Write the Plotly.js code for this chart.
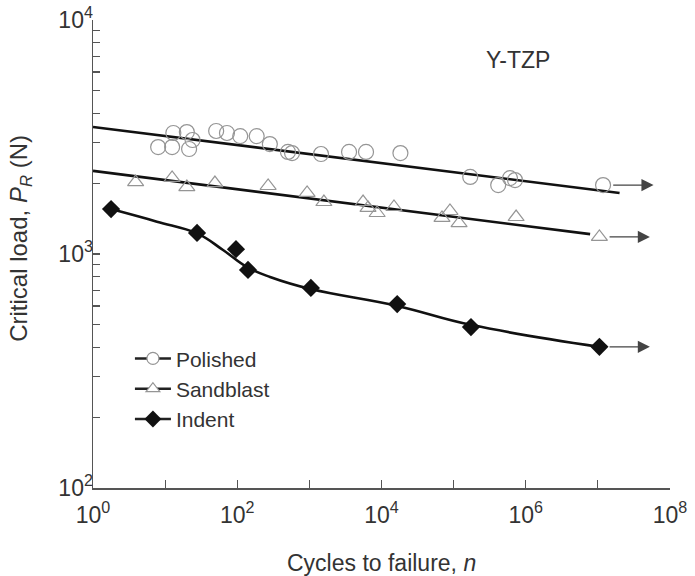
<!DOCTYPE html>
<html>
<head>
<meta charset="utf-8">
<script src="https://cdn.plot.ly/plotly-3.0.1.min.js"></script>
<style>
  html, body { margin: 0; padding: 0; background: #fff; }
  #plot { width: 695px; height: 576px; }
</style>
</head>
<body>
<div id="plot"></div>
<script>
// Polished specimens (open circles)
const polN = [8, 12.5, 13, 20, 24, 21.5, 51, 72, 110, 186, 283, 505, 575, 1450, 3550, 6100, 18300, 170000, 415000, 605000, 710000, 1.18e7];
const polP = [2865, 2865, 3290, 3320, 3070, 2810, 3355, 3290, 3190, 3190, 2950, 2730, 2700, 2675, 2730, 2730, 2700, 2135, 1970, 2110, 2070, 1970];
const polFitN = [1, 2.0e7];
const polFitP = [3490, 1824];

// Sandblasted (open triangles)
const sandN = [3.9, 12.5, 20, 49, 268, 930, 1590, 5550, 6500, 8700, 14900, 69000, 89000, 119000, 735000, 1.05e7];
const sandP = [2030, 2115, 1932, 2010, 1953, 1824, 1668, 1668, 1573, 1497, 1588, 1426, 1527, 1355, 1439, 1183];
const sandFitN = [1, 7.8e6];
const sandFitP = [2265, 1216];

// Indented (filled diamonds)
const indN = [1.78, 27.7, 96, 141, 1050, 16500, 174000, 1.05e7];
const indP = [1556, 1230, 1049, 855, 716, 611, 487, 401];
// curve
const indFitN = [1.78, 7.7, 27.7, 63.5, 137, 285, 1050, 16500, 174000, 1.05e7];
const indFitP = [1556, 1375, 1225, 1040, 879, 798, 708, 600, 498, 401];

// runouts (specimens that did not fail) -> arrows
const runoutN = [polN[polN.length - 1], sandN[sandN.length - 1], indN[indN.length - 1]];
const runoutP = [polP[polP.length - 1], sandP[sandP.length - 1], indP[indP.length - 1]];

const xTickVals = [1, 10, 100, 1e3, 1e4, 1e5, 1e6, 1e7, 1e8];
const xTickText = ["10<sup>0</sup>", "", "10<sup>2</sup>", "", "10<sup>4</sup>", "", "10<sup>6</sup>", "", "10<sup>8</sup>"];

const yTickVals = [];
const yTickText = [];
[100, 1000].forEach(d => {
  for (let k = 1; k <= 9; k++) {
    yTickVals.push(k * d);
    yTickText.push(k === 1 ? (d === 100 ? "10<sup>2</sup>" : "10<sup>3</sup>") : "");
  }
});
yTickVals.push(10000);
yTickText.push("10<sup>4</sup>");

const FONT = "Liberation Sans, Arial, sans-serif";
const INK = "#333";
const GREY = "#959595";

const traces = [
  { x: polFitN, y: polFitP, mode: "lines", line: { color: "#111", width: 2.6 }, showlegend: false, hoverinfo: "skip" },
  { x: sandFitN, y: sandFitP, mode: "lines", line: { color: "#111", width: 2.6 }, showlegend: false, hoverinfo: "skip" },
  { x: indFitN, y: indFitP, mode: "lines", line: { color: "#111", width: 2.6, shape: "spline", smoothing: 1.2 }, showlegend: false, hoverinfo: "skip" },
  { x: polN, y: polP, mode: "markers", showlegend: false,
    marker: { symbol: "circle-open", size: 15, color: GREY, line: { width: 1.2 } } },
  { x: sandN, y: sandP, mode: "markers", showlegend: false,
    marker: { symbol: "triangle-up-open", size: 14, color: GREY, line: { width: 1.2 } } },
  { x: indN, y: indP, mode: "markers", showlegend: false,
    marker: { symbol: "diamond", size: 14, color: "#111" } },
  // legend entries
  { x: [null], y: [null], mode: "lines+markers", name: "Polished", legendgroup: "a",
    line: { color: "#222", width: 2.5 },
    marker: { symbol: "circle", size: 12, color: "#fff", line: { color: GREY, width: 1.2 } } },
  { x: [null], y: [null], mode: "lines+markers", name: "Sandblast", legendgroup: "b",
    line: { color: "#222", width: 2.5 },
    marker: { symbol: "triangle-up", size: 12, color: "#fff", line: { color: GREY, width: 1.2 } } },
  { x: [null], y: [null], mode: "lines+markers", name: "Indent", legendgroup: "c",
    line: { color: "#222", width: 2.5 },
    marker: { symbol: "diamond", size: 13, color: "#111" } }
];

const annotations = runoutN.map((n, i) => ({
  xref: "x", yref: "y", axref: "x", ayref: "y",
  x: Math.log10(n) + 0.70, y: Math.log10(runoutP[i]),
  ax: Math.log10(n) + 0.12, ay: Math.log10(runoutP[i]),
  showarrow: true, arrowhead: 2, arrowsize: 2.2, arrowwidth: 1.1, arrowcolor: "#444", text: ""
}));
annotations.push(
  { xref: "paper", yref: "paper", x: 0.736, y: 0.915, xanchor: "center", yanchor: "middle",
    text: "Y-TZP", showarrow: false, font: { family: FONT, size: 23, color: INK } },
  { xref: "paper", yref: "paper", x: 0.5, y: -0.16, xanchor: "center", yanchor: "middle",
    text: "Cycles to failure, <i>n</i>", showarrow: false, font: { family: FONT, size: 23, color: INK } },
  { xref: "paper", yref: "paper", x: -0.127, y: 0.534, xanchor: "center", yanchor: "middle", textangle: -90,
    text: "Critical load, <i>P</i><sub><i>R</i></sub> (N)", showarrow: false, font: { family: FONT, size: 24, color: INK } }
);

const layout = {
  width: 695, height: 576,
  margin: { l: 93, r: 25, t: 20, b: 88 },
  paper_bgcolor: "#fff", plot_bgcolor: "#fff",
  font: { family: FONT, size: 20, color: INK },
  xaxis: {
    type: "log", range: [0, 8],
    tickvals: xTickVals, ticktext: xTickText,
    ticks: "inside", ticklen: 8, tickwidth: 1.2, tickcolor: "#555",
    showline: true, linecolor: "#555", linewidth: 1.5,
    showgrid: false, zeroline: false, ticklabelstandoff: 6,
    tickfont: { family: FONT, size: 23, color: INK }
  },
  yaxis: {
    type: "log", range: [2, 4],
    tickvals: yTickVals, ticktext: yTickText,
    ticks: "inside", ticklen: 7, tickwidth: 1.2, tickcolor: "#555",
    showline: true, linecolor: "#555", linewidth: 1.5,
    showgrid: false, zeroline: false, ticklabelstandoff: -6,
    tickfont: { family: FONT, size: 23, color: INK }
  },
  showlegend: true,
  legend: {
    x: 0.064, y: 0.32, xanchor: "left", yanchor: "top",
    bgcolor: "rgba(0,0,0,0)", font: { family: FONT, size: 21, color: INK },
    traceorder: "grouped", tracegroupgap: 0, itemwidth: 36
  },
  annotations
};

Plotly.newPlot("plot", traces, layout, { staticPlot: true });
</script>
</body>
</html>
